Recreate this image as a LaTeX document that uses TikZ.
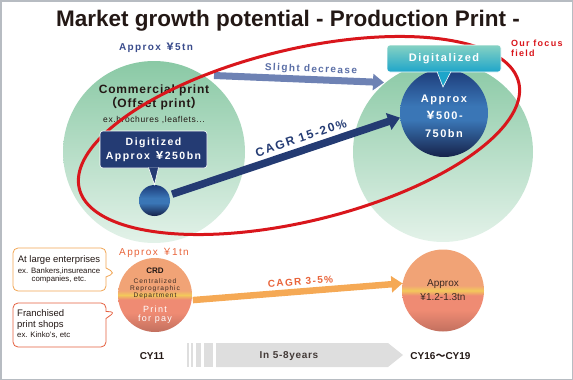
\documentclass[tikz,border=0pt]{standalone}
\usepackage{fontspec}
\setmainfont{Liberation Sans}
\newfontfamily\cjk{Noto Sans CJK JP}
\newfontfamily\wide[LetterSpace=14]{Liberation Sans}
\newfontfamily\semiwide[LetterSpace=7]{Liberation Sans}
\newcommand\yenw{{\cjk ￥}}
\usetikzlibrary{arrows.meta,shapes.callouts}

\definecolor{mintTop}{HTML}{8AC9A5}
\definecolor{mintBot}{HTML}{E3F2E9}
\definecolor{navy}{HTML}{243B73}
\definecolor{navyTop}{HTML}{1C3A78}
\definecolor{navyMid}{HTML}{3A76B6}
\definecolor{navyBot}{HTML}{16224A}
\definecolor{slate}{HTML}{6E82B4}
\definecolor{slateText}{HTML}{5A6EA6}
\definecolor{sizeText}{HTML}{3A4C8C}
\definecolor{focus}{HTML}{D9161C}
\definecolor{tealTop}{HTML}{86D2C3}
\definecolor{tealBot}{HTML}{1EA5CA}
\definecolor{peachTop}{HTML}{F1A376}
\definecolor{peachYel}{HTML}{F3C95B}
\definecolor{peachLow}{HTML}{EF8B73}
\definecolor{peachBot}{HTML}{C2705F}
\definecolor{crdText}{HTML}{3B2A22}
\definecolor{orText}{HTML}{E8643A}
\definecolor{orArrow}{HTML}{F5A955}
\definecolor{boxOne}{HTML}{F1A553}
\definecolor{boxTwo}{HTML}{E5603F}
\definecolor{band}{HTML}{DEDEDE}
\definecolor{ink}{HTML}{231815}
\definecolor{frame}{HTML}{B7BCC2}

\pgfdeclareverticalshading{navyshade}{100bp}{color(0bp)=(navyBot); color(25bp)=(navyBot); color(46bp)=(navyMid); color(54bp)=(navyMid); color(75bp)=(navyTop); color(100bp)=(navyTop)}
\pgfdeclareverticalshading{peachshade}{100bp}{color(0bp)=(peachBot); color(25bp)=(peachBot); color(38bp)=(peachLow); color(47bp)=(peachLow); color(50bp)=(peachYel); color(53bp)=(peachTop); color(75bp)=(peachTop); color(100bp)=(peachTop)}

\begin{document}
\begin{tikzpicture}[x=1pt,y=-1pt,
    ball/.style={circle,inner sep=0pt},
    mintball/.style={ball,top color=mintTop,bottom color=mintBot},
    navyball/.style={ball,shade,shading=navyshade},
    peachball/.style={ball,shade,shading=peachshade},
    tagbox/.style={rectangle,draw=white,line width=0.6,rounded corners=3,inner sep=0pt,text=white},
    note/.style={rectangle callout,fill=white,line width=0.8,rounded corners=5,minimum width=93}]
    \useasboundingbox (0,0) rectangle (573,380);
    \draw[frame,line width=1.5] (0.75,0.75) rectangle (572.25,379.25);

    \node[font=\bfseries\fontsize{22.5}{27}\selectfont,text=ink] (title) at (288,21) {Market growth potential - Production Print -};

    \node[mintball,minimum size=182] (offset) at (154,152) {};
    \node[mintball,minimum size=180] (digital) at (443,152) {};
    \node[font=\wide\bfseries\fontsize{10}{12}\selectfont,text=sizeText] (offsetsize) at (156,48) {Approx \yenw5tn};
    \node[font=\semiwide\bfseries\fontsize{12}{13.5}\selectfont,text=ink,align=center] (offsetname) at (154,97.5) {Commercial print\\{\cjk（}Offset print{\cjk）}};
    \node[font=\semiwide\fontsize{8.5}{9}\selectfont,text=ink] (offsetex) at (154,120) {ex.brochures ,leaflets...};

    \node[navyball,minimum size=88] (newdig) at (444,113) {};
    \node[font=\wide\bfseries\fontsize{11}{17.5}\selectfont,text=white,align=center] (newdigtext) at (444,116) {Approx\\\yenw500-\\750bn};

    \coordinate (sdfrom) at (214,75.5);
    \coordinate (sdto) at (384,82.5);
    \draw[slate,line width=7,-{Triangle[length=11pt,width=16pt]}] (sdfrom) -- (sdto);
    \node[font=\wide\bfseries\fontsize{10}{12}\selectfont,text=slateText,rotate=-2.5] (sdlabel) at (311,69.5) {Slight decrease};

    \node[navyball,minimum size=31] (olddig) at (154.5,200.5) {};
    \draw[navy,line width=7.5,-{Triangle[length=12pt,width=17pt]},shorten <=3pt] (olddig.20) -- (newdig.186);
    \node[font=\wide\bfseries\fontsize{12}{14}\selectfont,text=navy,rotate=18.5] (cagrhigh) at (301,138) {CAGR 15-20\%};

    \draw[focus,line width=3] plot[domain=0:357,samples=120,smooth cycle]
        ({299+219.7*cos(\x)+20.2*sin(\x)},{135.5-53.1*cos(\x)+83.6*sin(\x)});

    \node[tagbox,fill=navy,minimum width=107,minimum height=37,align=center,
        font=\wide\bfseries\fontsize{10.5}{14}\selectfont] (digcall) at (153.5,149.5) {Digitized\\Approx \yenw250bn};
    \filldraw[fill=navy,draw=white,line width=0.6] ([xshift=-5pt,yshift=0.8pt]digcall.south) -- (olddig.north) -- ([xshift=5pt,yshift=0.8pt]digcall.south);
    \node[tagbox,top color=tealTop,bottom color=tealBot,minimum width=114,minimum height=27,
        font=\wide\bfseries\fontsize{11}{13}\selectfont] (digtag) at (444,58.5) {Digitalized};
    \coordinate (digtip) at (443,87);
    \filldraw[fill=tealBot,draw=white,line width=0.6] ([xshift=-7pt,yshift=0.8pt]digtag.south) -- (digtip) -- ([xshift=7pt,yshift=0.8pt]digtag.south);
    \node[font=\wide\bfseries\fontsize{9}{10}\selectfont,text=focus,align=left,anchor=north west,inner sep=0pt] (focuslabel) at (511,40) {Our focus\\field};

    \node[font=\wide\fontsize{10}{12}\selectfont,text=orText] (crdsize) at (154,253) {Approx \yenw1tn};
    \node[peachball,minimum size=74] (crd) at (155,295) {};
    \node[font=\bfseries\fontsize{8}{9}\selectfont,text=ink] (crdtitle) at (155,271) {CRD};
    \node[font=\wide\fontsize{6.6}{7}\selectfont,text=crdText,align=center] (crdname) at (155,288.3) {Centralized\\Reprographic\\Department};
    \node[font=\wide\fontsize{9}{9.5}\selectfont,text=white,align=center] (crdpay) at (155,314.5) {Print\\for pay};

    \node[peachball,minimum size=82] (newcrd) at (443,290.5) {};
    \node[font=\fontsize{10}{13.5}\selectfont,text=crdText,align=center] (newcrdtext) at (443,290) {Approx\\¥1.2-1.3tn};

    \draw[orArrow,line width=6.5,-{Triangle[length=11pt,width=16pt]},shorten <=1pt] (crd.-8) -- (newcrd.170);
    \node[font=\wide\bfseries\fontsize{10}{12}\selectfont,text=orText,rotate=4] (cagrlow) at (300.5,281.5) {CAGR 3-5\%};

    \node[note,draw=boxOne,minimum height=43,callout absolute pointer={(115,273)},callout pointer width=9] (bigco) at (59.5,269.5) {};
    \node[font=\fontsize{9.5}{11}\selectfont,text=ink] (bigcoA) at (59,260) {At large enterprises};
    \node[font=\fontsize{7.8}{7.6}\selectfont,text=ink,align=center] (bigcoB) at (59,275.5) {ex. Bankers,insureance\\companies, etc.};

    \node[note,draw=boxTwo,minimum height=44,callout absolute pointer={(115,312)},callout pointer width=7] (shops) at (59.5,325) {};
    \node[anchor=west,font=\fontsize{9.5}{11}\selectfont,text=ink,align=left,inner sep=0pt] (shopsA) at (17,319.5) {Franchised\\print shops};
    \node[anchor=west,font=\fontsize{7.8}{9}\selectfont,text=ink,inner sep=0pt] (shopsB) at (17,335) {ex. Kinko's, etc};

    \foreach \a/\b in {187.3/189,191/193.3,196/201,204/213}
        \fill[band] (\a,343) rectangle (\b,367);
    \fill[band] (216,343) -- (388,343) -- (403,355) -- (388,367) -- (216,367) -- cycle;
    \node[font=\bfseries\fontsize{10}{12}\selectfont,text=ink] (startyr) at (152,356) {CY11};
    \node[font=\semiwide\bfseries\fontsize{10}{12}\selectfont,text=ink!85] (span) at (289,356) {In 5-8years};
    \node[font=\bfseries\fontsize{10}{12}\selectfont,text=ink] (endyr) at (440.5,356) {CY16{\cjk ～}CY19};
\end{tikzpicture}
\end{document}
